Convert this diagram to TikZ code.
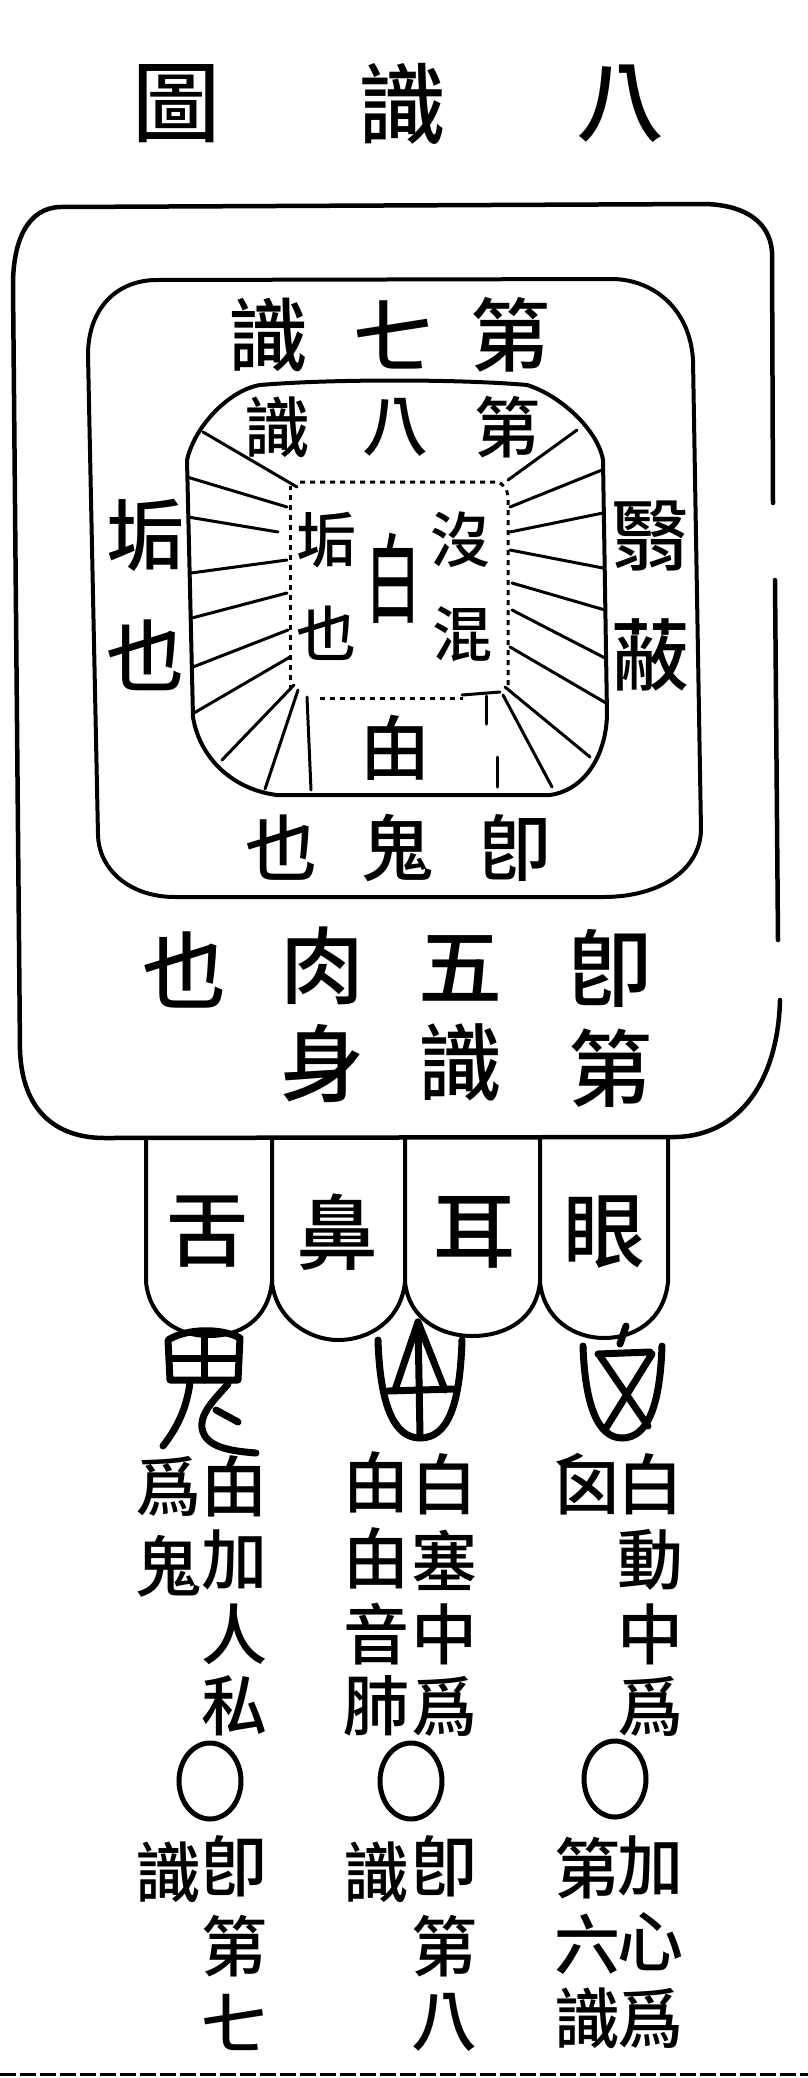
\documentclass[tikz,border=0pt]{standalone}
\usepackage{fontspec}
\newfontfamily\cjk{Noto Sans CJK TC}[UprightFont=* Medium]
\usetikzlibrary{shapes.geometric}
\tikzset{
  ch/.style={font=\cjk\fontsize{#1}{#1}\selectfont, inner sep=0pt},
  outerline/.style={line width=4.5pt, line join=round, line cap=round},
  boxline/.style={line width=4pt, line join=round, line cap=round},
  rayline/.style={line width=3pt, line cap=round},
  dashline/.style={line width=3pt, dash pattern=on 5pt off 5pt},
  sealline/.style={line width=7pt, line cap=round, line join=round},
  ringmark/.style={draw, ellipse, line width=5pt, minimum width=62pt, minimum height=76pt, inner sep=0pt},
}
\begin{document}
\begin{tikzpicture}[x=1pt,y=-1pt]
\useasboundingbox (0,0) rectangle (808,2078);
\fill[white] (0,0) rectangle (808,2078);

% title
\node[ch=88] (ti1) at (620,104) {八};
\node[ch=88] (ti2) at (402,104) {識};
\node[ch=88] (ti3) at (176,104) {圖};

% outer box (right edge broken)
\draw[outerline] (773,503) -- (772,252) .. controls (770,222) and (745,205) .. (705,204)
  -- (60,207) .. controls (28,208) and (13,240) .. (13,285) -- (20,1050)
  .. controls (22,1110) and (55,1138) .. (105,1138) -- (675,1137)
  .. controls (740,1136) and (778,1080) .. (780,1000);
\draw[outerline] (775,580) -- (778,940);

% seventh box
\draw[boxline] (155,280) -- (613,279) .. controls (655,280) and (690,310) .. (693,360)
  -- (701,830) .. controls (700,870) and (660,897) .. (603,897) -- (175,897)
  .. controls (130,897) and (99,870) .. (98,835) -- (88,355)
  .. controls (88,310) and (115,281) .. (155,280) -- cycle;

% eighth box
\draw[boxline] (260,385) .. controls (330,379) and (460,379) .. (527,385)
  .. controls (560,395) and (598,430) .. (603,460) -- (607,715)
  .. controls (606,755) and (585,790) .. (550,795) -- (277,795)
  .. controls (235,790) and (200,760) .. (193,717) -- (187,460)
  .. controls (195,425) and (230,390) .. (260,385) -- cycle;

% dashed core
\draw[dashline] (290,690) -- (290,486);
\draw[dashline] (300,482) -- (497,482) .. controls (503,483) and (508,490) .. (508,498) -- (508,688);
\draw[dashline] (320,698) -- (463,698);
\draw[rayline] (462,695) -- (500,692);
\draw[rayline] (486,696) -- (486,724);

% rays left
\draw[rayline] (203,432) -- (297,487);
\draw[rayline] (187,477) -- (287,507);
\draw[rayline] (188,517) -- (278,532);
\draw[rayline] (191,573) -- (287,560);
\draw[rayline] (192,618) -- (287,593);
\draw[rayline] (193,667) -- (288,630);
\draw[rayline] (194,713) -- (290,657);
\draw[rayline] (222,760) -- (294,685);
\draw[rayline] (265,789) -- (298,690);
\draw[rayline] (311,790) -- (307,697);
% rays right
\draw[rayline] (577,430) -- (508,480);
\draw[rayline] (602,470) -- (510,507);
\draw[rayline] (603,513) -- (510,532);
\draw[rayline] (603,568) -- (510,550);
\draw[rayline] (605,610) -- (512,583);
\draw[rayline] (605,658) -- (512,610);
\draw[rayline] (606,703) -- (510,647);
\draw[rayline] (590,757) -- (505,687);
\draw[rayline] (552,787) -- (503,695);
\draw[rayline] (497,787) -- (497,757);

% seventh box texts
\node[ch=80] (s1) at (510,335) {第};
\node[ch=80] (s2) at (393,335) {七};
\node[ch=80] (s3) at (268,335) {識};
\node[ch=78] (s4) at (145,535) {垢};
\node[ch=78] (s5) at (145,655) {也};
\node[ch=78] (s6) at (650,536) {翳};
\node[ch=78] (s7) at (650,655) {蔽};
\node[ch=72] (s8) at (515,848) {卽};
\node[ch=72] (s9) at (397,848) {鬼};
\node[ch=72] (s10) at (281,848) {也};

% eighth box texts
\node[ch=66] (e1) at (507,427) {第};
\node[ch=66] (e2) at (395,427) {八};
\node[ch=66] (e3) at (277,427) {識};
\node[ch=60] (e4) at (326,540) {垢};
\node[ch=60] (e5) at (326,633) {也};
\node[ch=72] (e6) at (393,578) {\scalebox{0.75}[1.35]{白}};
\node[ch=60] (e7) at (460,540) {沒};
\node[ch=60] (e8) at (462,634) {混};
\node[ch=70] (e9) at (395,748) {甶};

% fifth consciousness texts
\node[ch=84] (f1) at (610,968) {卽};
\node[ch=84] (f2) at (610,1068) {第};
\node[ch=84] (f3) at (460,968) {五};
\node[ch=84] (f4) at (460,1062) {識};
\node[ch=84] (f5) at (322,966) {肉};
\node[ch=84] (f6) at (322,1063) {身};
\node[ch=84] (f7) at (184,970) {也};

% tabs
\draw[boxline] (146,1138) -- (146,1282) .. controls (150,1320) and (180,1336) .. (209,1336)
  .. controls (240,1336) and (268,1320) .. (272,1282) -- (272,1138);
\draw[boxline] (272,1282) .. controls (276,1320) and (310,1340) .. (338,1340)
  .. controls (370,1340) and (401,1320) .. (405,1282) -- (405,1138);
\draw[boxline] (405,1282) .. controls (409,1320) and (442,1336) .. (472,1336)
  .. controls (505,1336) and (536,1320) .. (540,1282) -- (540,1138);
\draw[boxline] (540,1282) .. controls (544,1320) and (575,1338) .. (604,1338)
  .. controls (635,1338) and (664,1320) .. (668,1282) -- (668,1138);
\node[ch=82] (t1) at (207,1232) {舌};
\node[ch=82] (t2) at (337,1232) {鼻};
\node[ch=82] (t3) at (474,1232) {耳};
\node[ch=82] (t4) at (604,1232) {眼};

% seal glyphs
% gui (ghost)
\draw[sealline] (170,1380) -- (168,1340) .. controls (187,1328) and (222,1328) .. (240,1338) -- (238,1380) -- cycle;
\draw[sealline] (204,1332) -- (204,1380);
\draw[sealline] (170,1358) -- (238,1358);
\draw[sealline] (190,1382) .. controls (187,1408) and (177,1428) .. (163,1446);
\draw[sealline] (228,1384) .. controls (217,1397) and (200,1412) .. (202,1428)
  .. controls (205,1448) and (232,1451) .. (256,1453);
\draw[sealline] (216,1410) -- (238,1422);
% fu
\draw[sealline] (378,1340) .. controls (380,1405) and (394,1438) .. (420,1438)
  .. controls (448,1438) and (460,1405) .. (462,1340);
\draw[sealline] (395,1390) -- (418,1322) -- (445,1390);
\draw[sealline] (388,1391) -- (454,1389);
\draw[sealline] (418,1322) -- (420,1436);
% xin
\draw[sealline] (583,1346) .. controls (585,1405) and (598,1438) .. (622,1438)
  .. controls (648,1438) and (660,1405) .. (662,1346);
\draw[sealline] (626,1326) -- (620,1344);
\draw[sealline] (598,1354) -- (650,1352);
\draw[sealline] (600,1356) -- (648,1426);
\draw[sealline] (652,1354) -- (606,1428);

% right group
\node[ch=66] (r1) at (650,1484) {白};
\node[ch=66] (r2) at (650,1560) {動};
\node[ch=66] (r3) at (650,1634) {中};
\node[ch=66] (r4) at (650,1706) {爲};
\node[ch=66] (r5) at (587,1484) {囟};
\node[ringmark] (o3) at (615,1779) {};
\node[ch=66] (r6) at (650,1866) {加};
\node[ch=66] (r7) at (650,1942) {心};
\node[ch=66] (r8) at (650,2018) {爲};
\node[ch=66] (r9) at (587,1868) {第};
\node[ch=66] (r10) at (587,1944) {六};
\node[ch=66] (r11) at (587,2018) {識};

% middle group
\node[ch=66] (m1) at (444,1484) {白};
\node[ch=66] (m2) at (444,1560) {塞};
\node[ch=66] (m3) at (444,1634) {中};
\node[ch=66] (m4) at (444,1706) {爲};
\node[ch=66] (m5) at (376,1482) {甶};
\node[ch=66] (m6) at (376,1558) {甶};
\node[ch=66] (m7) at (376,1634) {音};
\node[ch=66] (m8) at (376,1706) {肺};
\node[ringmark] (o2) at (411,1781) {};
\node[ch=66] (m9) at (444,1866) {卽};
\node[ch=66] (m10) at (444,1946) {第};
\node[ch=66] (m11) at (444,2022) {八};
\node[ch=66] (m12) at (376,1872) {識};

% left group
\node[ch=66] (l1) at (234,1486) {甶};
\node[ch=66] (l2) at (234,1560) {加};
\node[ch=66] (l3) at (234,1634) {人};
\node[ch=66] (l4) at (234,1706) {私};
\node[ch=66] (l5) at (168,1486) {爲};
\node[ch=66] (l6) at (168,1566) {鬼};
\node[ringmark] (o1) at (210,1781) {};
\node[ch=66] (l7) at (234,1866) {卽};
\node[ch=66] (l8) at (234,1946) {第};
\node[ch=66] (l9) at (234,2022) {七};
\node[ch=66] (l10) at (168,1872) {識};

% bottom edge
\draw[line width=3pt, dash pattern=on 16pt off 4pt] (0,2074) -- (808,2074);
\end{tikzpicture}
\end{document}
